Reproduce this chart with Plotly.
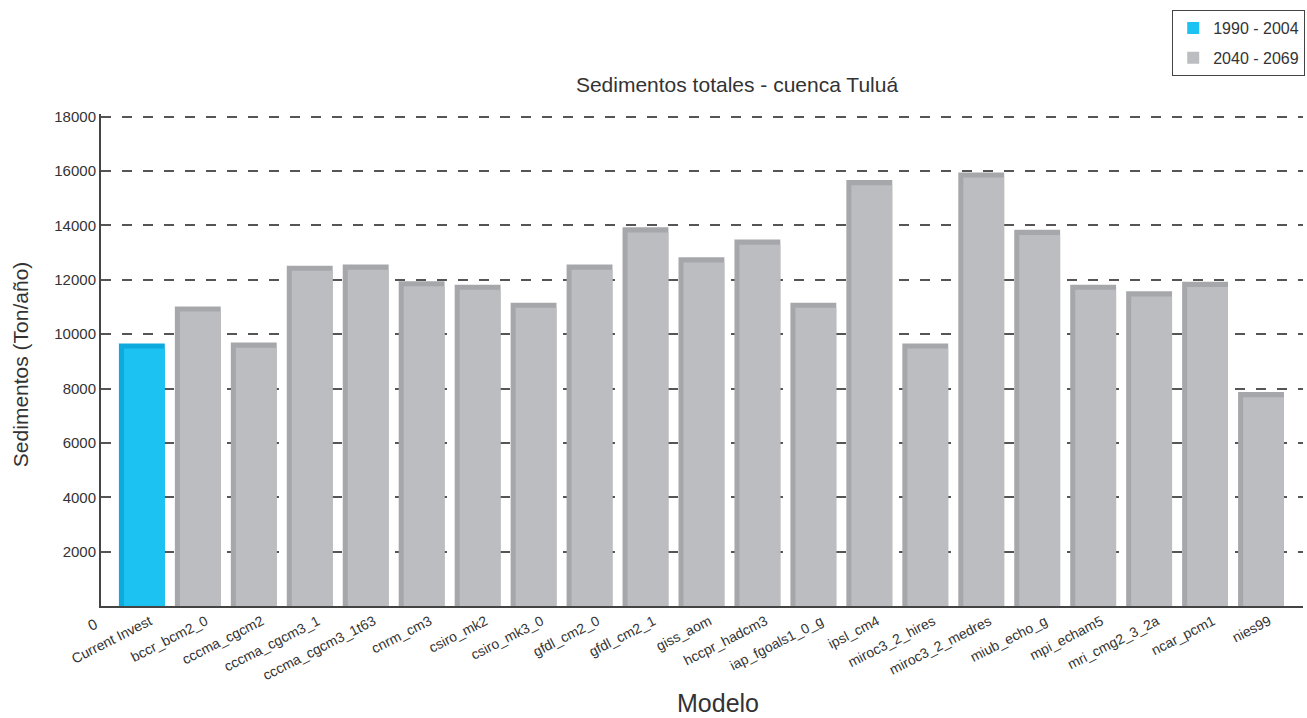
import plotly.graph_objects as go

categories = ["Current Invest", "bccr_bcm2_0", "cccma_cgcm2", "cccma_cgcm3_1",
              "cccma_cgcm3_1t63", "cnrm_cm3", "csiro_mk2", "csiro_mk3_0",
              "gfdl_cm2_0", "gfdl_cm2_1", "giss_aom", "hccpr_hadcm3",
              "iap_fgoals1_0_g", "ipsl_cm4", "miroc3_2_hires", "miroc3_2_medres",
              "miub_echo_g", "mpi_echam5", "mri_cmg2_3_2a", "ncar_pcm1", "nies99"]
sedimentos = [9470, 10830, 9500, 12330, 12370, 11760, 11630, 10970,
              12370, 13740, 12640, 13290, 10970, 15480, 9470, 15760,
              13650, 11630, 11390, 11740, 7680]
periodos = ["1990 - 2004", "2040 - 2069"]
y_ticks = [2000, 4000, 6000, 8000, 10000, 12000, 14000, 16000, 18000]
y_ticktext = ["2000", "4000", "6000", "8000", "10000", "12000", "14000", "16000", "18000"]

FONT = "Liberation Sans, Arial, Helvetica, sans-serif"
TXT = "#333333"
CAP = 190
FRONT_BLUE, SIDE_BLUE = "#1cc2f2", "#0ea9dd"
FRONT_GRAY, SIDE_GRAY = "#bcbdc1", "#a6a7ab"

fig = go.Figure()

# depth layer (left side strip + top cap)
fig.add_trace(go.Bar(
    x=categories, y=[v + CAP for v in sedimentos],
    offset=-0.41, width=0.82,
    marker=dict(color=[SIDE_BLUE] + [SIDE_GRAY] * (len(categories) - 1), line=dict(width=0)),
    showlegend=False, hoverinfo="skip"))

# front faces
fig.add_trace(go.Bar(
    x=categories[:1], y=sedimentos[:1], name=periodos[0], legendgroup="a",
    offset=-0.32, width=0.73,
    marker=dict(color=FRONT_BLUE, line=dict(width=0))))
fig.add_trace(go.Bar(
    x=categories[1:], y=sedimentos[1:], name=periodos[1], legendgroup="b",
    offset=-0.32, width=0.73,
    marker=dict(color=FRONT_GRAY, line=dict(width=0))))

W, H = 1307, 718
L, R, T, B = 101, 2, 114, 112
pw, ph = W - L - R, H - T - B

fig.update_layout(
    width=W, height=H, barmode="overlay",
    margin=dict(l=L, r=R, t=T, b=B),
    paper_bgcolor="white", plot_bgcolor="white",
    font=dict(family=FONT, color=TXT, size=14),
    title=dict(text="Sedimentos totales - cuenca Tuluá", x=737 / W, xanchor="center",
               y=1 - 85 / H, yanchor="middle", font=dict(size=21, color=TXT, family=FONT)),
    legend=dict(x=(1174 - L) / pw, y=1 + (T - 10) / ph, xanchor="left", yanchor="top",
                bordercolor="#444444", borderwidth=1, bgcolor="white",
                tracegroupgap=6,
                font=dict(size=16, family=FONT, color=TXT), itemwidth=30),
    xaxis=dict(categoryorder="array", categoryarray=categories,
               range=[-0.73, 20.75], showgrid=False, zeroline=False,
               showline=True, linecolor="#444444", linewidth=2,
               tickangle=-27, tickfont=dict(size=14, family=FONT, color=TXT),
               ticks="", ticklabelshift=8),
    yaxis=dict(range=[0, 18100], tickvals=y_ticks, ticktext=y_ticktext, showgrid=True,
               gridcolor="#555555", gridwidth=2, griddash="10px,11px",
               zeroline=False, showline=True, linecolor="#444444", linewidth=2,
               ticks="", tickfont=dict(size=15, family=FONT, color=TXT)),
    annotations=[
        dict(text="Sedimentos (Ton/año)", xref="paper", yref="paper",
             x=(20 - L) / pw, y=(606 - 365) / ph, textangle=-90, showarrow=False,
             font=dict(size=21, family=FONT, color=TXT),
             xanchor="center", yanchor="middle"),
        dict(text="Modelo", xref="paper", yref="paper",
             x=(719 - L) / pw, y=-(703 - (T + ph)) / ph, showarrow=False,
             font=dict(size=25, family=FONT, color=TXT),
             xanchor="center", yanchor="middle"),
        dict(text="0", xref="paper", yref="paper",
             x=(92 - L) / pw, y=-(624 - (T + ph)) / ph, showarrow=False,
             textangle=-27, font=dict(size=15, family=FONT, color=TXT),
             xanchor="center", yanchor="middle"),
    ],
)

fig.write_html("out.html")
